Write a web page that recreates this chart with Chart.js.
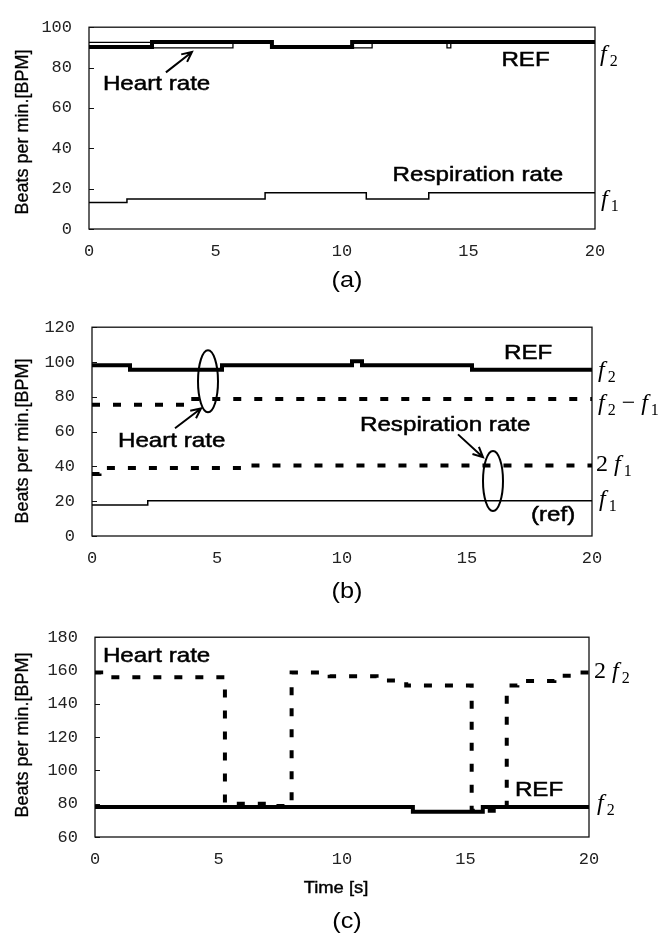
<!DOCTYPE html>
<html>
<head>
<meta charset="utf-8">
<script src="https://cdn.jsdelivr.net/npm/chart.js@4.4.1/dist/chart.umd.min.js"></script>
<style>
  html, body { margin: 0; padding: 0; background: #fff; }
  #wrap { position: relative; width: 669px; height: 939px; }
  canvas { position: absolute; left: 0; }
</style>
</head>
<body>
<div id="wrap">
  <canvas id="chartA" width="669" height="300" style="top:0px"></canvas>
  <canvas id="chartB" width="669" height="310" style="top:300px"></canvas>
  <canvas id="chartC" width="669" height="329" style="top:610px"></canvas>
</div>
<script>
// ---- data (time in s, beats per minute) ----
var xTicks = [0, 5, 10, 15, 20];

// (a)
var yTicksA = [0, 20, 40, 60, 80, 100];
var aRefT = [0, 2.49, 7.23, 10.4, 20];
var aRefV = [90.2, 92.7, 90.2, 92.7, 92.7];
var aHeartT = [0, 2.49, 5.69, 7.23, 11.19, 14.15, 14.3, 20];
var aHeartV = [92.5, 89.8, 92.7, 89.8, 92.7, 89.8, 92.7, 92.7];
var aRespT = [0, 1.5, 6.96, 10.96, 13.43, 20];
var aRespV = [13.1, 14.9, 18, 14.9, 18, 18];

// (b)
var yTicksB = [0, 20, 40, 60, 80, 100, 120];
var bRefT = [0, 1.52, 5.2, 10.4, 10.8, 15.2, 20];
var bRefV = [98.2, 95.6, 98.2, 100.5, 98.2, 95.6, 95.6];
var bHeartT = [0, 3.6, 20];
var bHeartV = [75.4, 78.7, 78.7];
var bResp2T = [0, 0.3, 6.0, 20];
var bResp2V = [35.6, 39.1, 40.5, 40.5];
var bRespRefT = [0, 2.23, 20];
var bRespRefV = [17.8, 20.2, 20.2];

// (c)
var yTicksC = [60, 80, 100, 120, 140, 160, 180];
var cRefT = [0, 12.87, 15.7, 20];
var cRefV = [78, 75.2, 78, 78];
var cHeartT = [0, 0.25, 5.26, 7.2, 7.96, 9.5, 11.4, 12.6, 15.25, 16.67, 17.1, 18.6, 19.3, 20];
var cHeartV = [158.8, 156, 80, 78.6, 158.8, 156.5, 154, 151, 75.8, 151, 153.7, 156.9, 158.8, 158.8];

// ---- helpers ----
var tickFont = { family: '"Liberation Mono", "DejaVu Sans Mono", monospace', size: 17 };
var sansFont = '"Liberation Sans", Arial, sans-serif';
var stretch = 1.15;

function pts(t, v) {
  return t.map(function (x, i) { return { x: x, y: v[i] }; });
}

function stepLine(t, v, width, dash) {
  return {
    data: pts(t, v),
    stepped: 'before',
    borderColor: '#000',
    borderWidth: width,
    borderDash: dash || [],
    borderCapStyle: 'butt',
    borderJoinStyle: 'miter',
    pointRadius: 0,
    fill: false
  };
}

function sText(ctx, s, px, py, size, align, heavy) {
  ctx.save();
  ctx.font = size + 'px ' + sansFont;
  var w = ctx.measureText(s).width * stretch;
  var x0 = align === 'center' ? px - w / 2 : px;
  ctx.translate(x0, py);
  ctx.scale(stretch, 1);
  ctx.textAlign = 'left';
  ctx.textBaseline = 'alphabetic';
  ctx.fillText(s, 0, 0);
  if (heavy) {
    ctx.lineWidth = heavy;
    ctx.strokeText(s, 0, 0);
  }
  ctx.restore();
}

function fLabel(ctx, px, py, parts) {
  var x = px;
  ctx.textAlign = 'left';
  ctx.textBaseline = 'alphabetic';
  parts.forEach(function (p) {
    if (p[1] === 'i') ctx.font = 'italic 24px "Liberation Serif", serif';
    else if (p[1] === 's') ctx.font = '16px "Liberation Serif", serif';
    else ctx.font = '24px "Liberation Serif", serif';
    ctx.fillText(p[0], x, py + (p[1] === 's' ? 5 : 0));
    x += ctx.measureText(p[0]).width + (p[1] === 'i' ? 3 : 0);
  });
}

function arrow(ctx, x1, y1, x2, y2) {
  var a = Math.atan2(y2 - y1, x2 - x1), L = 11, s = 0.45;
  ctx.beginPath();
  ctx.moveTo(x1, y1); ctx.lineTo(x2, y2);
  ctx.moveTo(x2 - L * Math.cos(a - s), y2 - L * Math.sin(a - s));
  ctx.lineTo(x2, y2);
  ctx.lineTo(x2 - L * Math.cos(a + s), y2 - L * Math.sin(a + s));
  ctx.stroke();
}

// annotations in data coordinates, captions in canvas pixels
var notes = {
  chartA: {
    texts: [['Heart rate', 0.55, 69], ['REF', 16.3, 80.6], ['Respiration rate', 12.0, 23.7]],
    arrows: [[3.04, 77.6, 4.07, 87.7]],
    ellipses: [],
    flabels: [[5, 83.3, [['f', 'i'], ['2', 's']]], [6, 11.4, [['f', 'i'], ['1', 's']]]],
    caption: ['(a)', 279], ytitle: 132
  },
  chartB: {
    texts: [['REF', 16.48, 101.5], ['Heart rate', 1.04, 51.3], ['Respiration rate', 10.72, 60.6], ['(ref)', 17.56, 8.7]],
    arrows: [[3.32, 61.9, 4.36, 73.3], [14.64, 58.4, 15.64, 45.3]],
    ellipses: [[4.64, 88.9, 10, 31], [16.04, 31.6, 10, 30]],
    flabels: [
      [6, 91.6, [['f', 'i'], ['2', 's']]],
      [6, 72.6, [['f', 'i'], ['2', 's'], [' \u2212 ', 'n'], ['f', 'i'], ['1', 's']]],
      [4, 37.1, [['2 ', 'n'], ['f', 'i'], ['1', 's']]],
      [7, 17.5, [['f', 'i'], ['1', 's']]]
    ],
    caption: ['(b)', 290], ytitle: 141
  },
  chartC: {
    texts: [['Heart rate', 0.32, 165.4], ['REF', 17.0, 84.8]],
    arrows: [],
    ellipses: [],
    flabels: [[5, 155.2, [['2 ', 'n'], ['f', 'i'], ['2', 's']]], [8, 76.3, [['f', 'i'], ['2', 's']]]],
    caption: ['(c)', 310], ytitle: 125, xtitle: ['Time [s]', 277]
  }
};

var annotPlugin = {
  id: 'annot',
  beforeDatasetsDraw: function (chart) {
    var ctx = chart.ctx, ca = chart.chartArea, y = chart.scales.y;
    ctx.save();
    ctx.strokeStyle = '#111';
    ctx.lineWidth = 1;
    y.ticks.forEach(function (t) {
      var py = Math.round(y.getPixelForValue(t.value)) + 0.5;
      ctx.beginPath();
      ctx.moveTo(ca.left, py); ctx.lineTo(ca.left + 5, py);
      ctx.stroke();
    });
    ctx.lineWidth = 1.3;
    ctx.strokeRect(ca.left, ca.top, ca.right - ca.left, ca.bottom - ca.top);
    ctx.restore();
  },
  afterDraw: function (chart) {
    var n = notes[chart.canvas.id];
    var ctx = chart.ctx, ca = chart.chartArea;
    var x = chart.scales.x, y = chart.scales.y;
    ctx.save();
    ctx.fillStyle = '#000';
    ctx.strokeStyle = '#000';
    n.texts.forEach(function (t) {
      sText(ctx, t[0], x.getPixelForValue(t[1]), y.getPixelForValue(t[2]), 21, 'left', 0.5);
    });
    ctx.lineWidth = 2;
    n.arrows.forEach(function (a) {
      arrow(ctx, x.getPixelForValue(a[0]), y.getPixelForValue(a[1]),
        x.getPixelForValue(a[2]), y.getPixelForValue(a[3]));
    });
    n.ellipses.forEach(function (e) {
      ctx.beginPath();
      ctx.ellipse(x.getPixelForValue(e[0]), y.getPixelForValue(e[1]), e[2], e[3], 0, 0, Math.PI * 2);
      ctx.stroke();
    });
    n.flabels.forEach(function (f) {
      fLabel(ctx, ca.right + f[0], y.getPixelForValue(f[1]), f[2]);
    });
    // captions and axis titles
    sText(ctx, n.caption[0], 347, n.caption[1] + 8, 22, 'center', 0);
    if (n.xtitle) sText(ctx, n.xtitle[0], 336, n.xtitle[1] + 6, 16, 'center', 0.4);
    ctx.save();
    ctx.translate(28, n.ytitle);
    ctx.rotate(-Math.PI / 2);
    ctx.font = '18px ' + sansFont;
    ctx.textAlign = 'center';
    ctx.textBaseline = 'alphabetic';
    ctx.lineWidth = 0.3;
    ctx.fillText('Beats per min.[BPM]', 0, 0);
    ctx.strokeText('Beats per min.[BPM]', 0, 0);
    ctx.restore();
    ctx.restore();
  }
};

function makeChart(id, datasets, cfg) {
  return new Chart(document.getElementById(id), {
    type: 'line',
    data: { datasets: datasets },
    plugins: [annotPlugin],
    options: {
      responsive: false,
      animation: false,
      events: [],
      layout: { padding: { top: cfg.top, right: cfg.right, left: 0, bottom: 0 } },
      plugins: { legend: { display: false }, tooltip: { enabled: false } },
      scales: {
        x: {
          type: 'linear', min: 0, max: 20,
          grid: { display: false, drawTicks: false },
          border: { display: false },
          ticks: { font: tickFont, color: '#222', padding: 12, maxRotation: 0 },
          afterBuildTicks: function (s) { s.ticks = xTicks.map(function (v) { return { value: v }; }); },
          afterFit: function (s) { s.height = cfg.xh; }
        },
        y: {
          type: 'linear', min: cfg.ymin, max: cfg.ymax,
          grid: { display: false, drawTicks: false },
          border: { display: false },
          ticks: { font: tickFont, color: '#222', padding: 17 },
          afterBuildTicks: function (s) { s.ticks = cfg.yt.map(function (v) { return { value: v }; }); },
          afterFit: function (s) { s.width = cfg.yw; }
        }
      }
    }
  });
}

makeChart('chartA', [
  stepLine(aRespT, aRespV, 1.5),
  stepLine(aHeartT, aHeartV, 1.3),
  stepLine(aRefT, aRefV, 4)
], { top: 9, right: 74, xh: 71, yw: 89, ymin: 0, ymax: 100, yt: yTicksA });

makeChart('chartB', [
  stepLine(bRespRefT, bRespRefV, 1.5),
  stepLine(bResp2T, bResp2V, 4, [8, 13]),
  stepLine(bHeartT, bHeartV, 4, [8, 13]),
  stepLine(bRefT, bRefV, 4)
], { top: 16, right: 77, xh: 74, yw: 92, ymin: 0, ymax: 120, yt: yTicksB });

makeChart('chartC', [
  stepLine(cHeartT, cHeartV, 4, [8, 13]),
  stepLine(cRefT, cRefV, 4)
], { top: 14, right: 80, xh: 102, yw: 95, ymin: 60, ymax: 180, yt: yTicksC });
</script>
</body>
</html>
